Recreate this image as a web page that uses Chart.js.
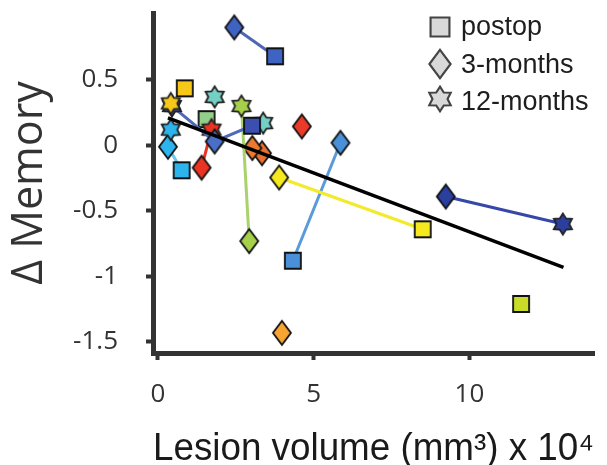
<!DOCTYPE html>
<html>
<head>
<meta charset="utf-8">
<script src="https://cdn.jsdelivr.net/npm/chart.js@4.4.1/dist/chart.umd.min.js"></script>
<style>
html,body{margin:0;padding:0;background:#fff;}
#wrap{width:607px;height:465px;}
</style>
</head>
<body>
<div id="wrap"><canvas id="c" width="607" height="465"></canvas></div>
<script>
// ---- data ----
const patients   = ['A','B','C','D','E','F','G','H','I','J','K','L','M','N','O','P','Q'];
// postop (square)
const postopVol  = [3.76, 0.86, 3.02, 0.76, null, null, 1.56, null, null, null, null, null, 8.50, 4.33, null, null, 11.66];
const postopMem  = [0.68, 0.435,0.15,-0.19, null, null, 0.20, null, null, null, null, null,-0.64,-0.88, null, null, -1.21];
// 3 months (diamond)
const m3Vol      = [2.45, null, 1.82, 0.32, 1.40, 4.62, null, null, null, 2.93, 3.03, 3.34, 3.89, 5.86, 3.98, 9.24, null];
const m3Mem      = [0.90, null, 0.03,-0.01,-0.17, 0.145,null, null, null,-0.73,-0.02,-0.06,-0.245,0.02,-1.43,-0.39, null];
// 12 months (star)
const m12Vol     = [null, 0.41, 0.45, 0.41, 1.72, null, null, 1.82, 3.38, 2.68, null, null, null, null, null, 13.0, null];
const m12Mem     = [null, 0.32, 0.30, 0.12, 0.12, null, null, 0.37, 0.17, 0.30, null, null, null, null, null,-0.60, null];
// regression line end points
const fitVol = [0.32, 13.02];
const fitMem = [0.21, -0.93];
// axes
const xTicks = [0, 5, 10];
const yTicks = [-1.5, -1, -0.5, 0, 0.5];
const legendLabels = ['postop', '3-months', '12-months'];
const xTitle = 'Lesion volume (mm\u00B3) x 10\u2074';
const yTitle = '\u0394 Memory';

// ---- styles ----
const markerColors = ['#3f63c2','#f5c81a','#3a4fb0','#2db4ec','#ea3323','#ea3a2a','#93cf8c','#74cfc4','#74cfc4','#a6d04a','#ec7a2e','#e8702c','#f6ea1e','#4a90d8','#f7a433','#2b3f9f','#c9dd28'];
const diamondColors = {2:'#4a6fc8'};
const lineColors = ['#5066b4','#f5c81a','#5068b8','#6cc7ef','#ea3323','#ea3a2a','#93cf8c','#74cfc4','#74cfc4','#a9d36a','#ec7a2e','#e8702c','#f2ea2a','#5a9ad8','#f7a433','#3548a8','#c9dd28'];

function makeMarker(shape, fill, stroke, scale){
  scale = scale || 1;
  const c = document.createElement('canvas');
  const S = Math.ceil(30*scale);
  c.width = S; c.height = S;
  const g = c.getContext('2d');
  const cx = S/2, cy = S/2;
  g.beginPath();
  if (shape === 'square'){
    const h = 8*scale;
    g.rect(cx-h, cy-h, 2*h, 2*h);
  } else if (shape === 'diamond'){
    const w = 9*scale, hh = 12*scale;
    g.moveTo(cx, cy-hh); g.lineTo(cx+w, cy); g.lineTo(cx, cy+hh); g.lineTo(cx-w, cy); g.closePath();
  } else {
    const R = 10.5*scale, r = 6.4*scale;
    for (let i=0;i<12;i++){
      const a = -Math.PI/2 + i*Math.PI/6;
      const rr = (i%2===0)?R:r;
      const px = cx + rr*Math.cos(a), py = cy + rr*Math.sin(a);
      if (i===0) g.moveTo(px,py); else g.lineTo(px,py);
    }
    g.closePath();
  }
  g.fillStyle = fill; g.fill();
  g.lineWidth = 2*scale*0.9; g.strokeStyle = stroke; g.lineJoin='miter'; g.stroke();
  return c;
}

const datasets = [];
datasets.push({
  data: fitVol.map((v,i)=>({x:v, y:fitMem[i]})),
  showLine:true, borderColor:'#000', borderWidth:3.5, pointRadius:0, fill:false
});
patients.forEach((p,i)=>{
  const pts = [], styles = [];
  const col = markerColors[i];
  if (postopVol[i] !== null){ pts.push({x:postopVol[i], y:postopMem[i]}); styles.push(makeMarker('square', col, '#111')); }
  if (m3Vol[i] !== null){ pts.push({x:m3Vol[i], y:m3Mem[i]}); styles.push(makeMarker('diamond', diamondColors[i]||col, '#111')); }
  if (m12Vol[i] !== null){ pts.push({x:m12Vol[i], y:m12Mem[i]}); styles.push(makeMarker('star', col, '#222')); }
  datasets.push({
    label:p, data:pts, showLine:true, borderColor:lineColors[i], borderWidth:3,
    pointStyle:styles, pointRadius:10, pointHoverRadius:10, fill:false
  });
});

const legendPlugin = {
  id:'customLegend',
  afterDraw(chart){
    const ctx = chart.ctx;
    const shapes = ['square','diamond','star'];
    const ys = [27, 64, 99];
    ctx.save();
    ctx.font = '27px "Liberation Sans", Arial, sans-serif';
    ctx.fillStyle = '#1e1e1e';
    ctx.textBaseline = 'alphabetic';
    const bases = [35, 73, 110];
    shapes.forEach((s,i)=>{
      const m = makeMarker(s, '#d9d9d9', '#444', 1.18);
      ctx.drawImage(m, 440 - m.width/2, ys[i] - m.height/2);
      ctx.fillText(legendLabels[i], 461, bases[i]);
    });
    ctx.restore();
  }
};

new Chart(document.getElementById('c'), {
  type:'scatter',
  data:{datasets},
  options:{
    responsive:false, animation:false, devicePixelRatio:1,
    layout:{padding:{top:13, right:10, left:0, bottom:0}},
    plugins:{legend:{display:false}, tooltip:{enabled:false}},
    scales:{
      x:{
        type:'linear', min:-0.16, max:14.0,
        afterFit(s){ s.height = 112; s.paddingLeft = 0; s.paddingRight = 0; },
        afterBuildTicks(s){ s.ticks = xTicks.map(v=>({value:v})); },
        border:{display:true, width:5, color:'#333'},
        grid:{display:true, drawOnChartArea:false, drawTicks:true, tickLength:7, tickWidth:4, tickColor:'#333', color:'#333'},
        ticks:{color:'#333', font:{family:'"Open Sans"', size:26}, padding:19, callback:(v)=>String(v)},
        title:{display:true, text:xTitle, color:'#1a1a1a', font:{family:'"Liberation Sans", Arial', size:38, lineHeight:1}, padding:{top:0,bottom:-4}}
      },
      y:{
        type:'linear', min:-1.584, max:1.01,
        afterFit(s){ s.width = 153; s.paddingTop = 0; s.paddingBottom = 0; },
        afterBuildTicks(s){ s.ticks = yTicks.map(v=>({value:v})); },
        border:{display:true, width:5, color:'#333'},
        grid:{display:true, drawOnChartArea:false, drawTicks:true, tickLength:7, tickWidth:4, tickColor:'#333', color:'#333'},
        ticks:{color:'#333', font:{family:'"Open Sans"', size:26}, padding:28, callback:(v)=>String(v)},
        title:{display:true, text:yTitle, color:'#333', font:{family:'"Open Sans"', size:43, lineHeight:1}, padding:{top:8,bottom:0}}
      }
    }
  },
  plugins:[legendPlugin]
});
</script>
</body>
</html>
